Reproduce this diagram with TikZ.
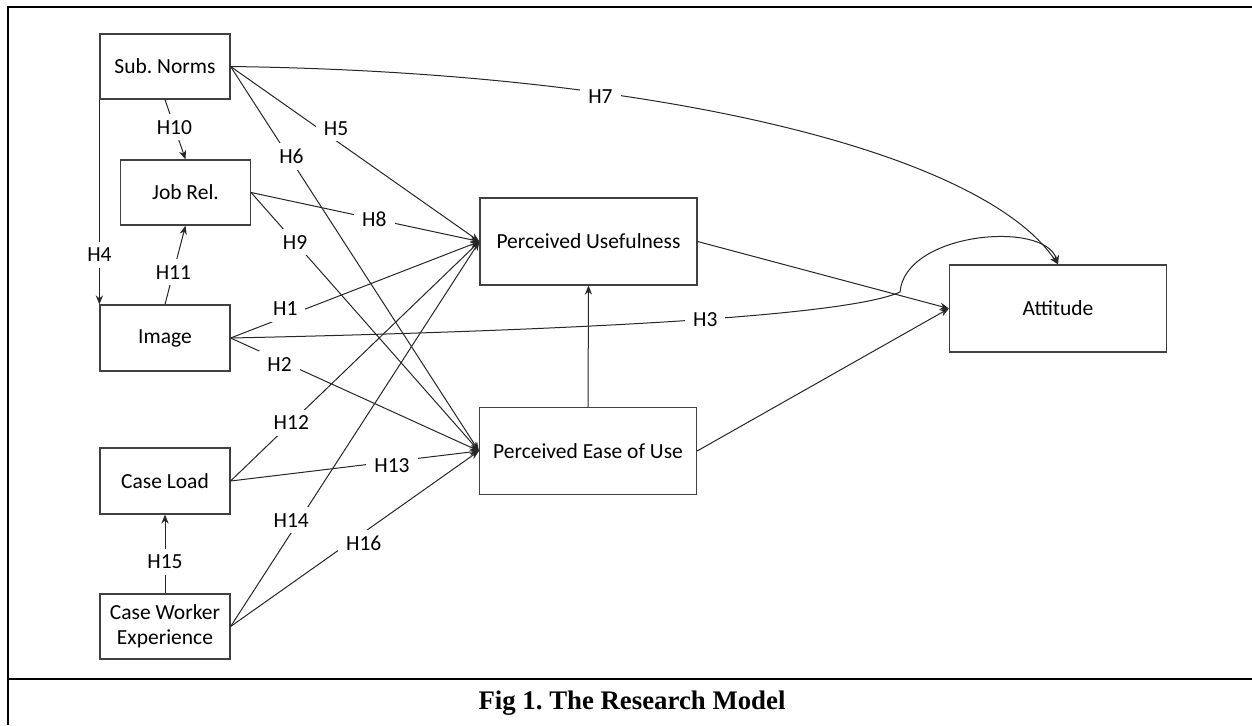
\documentclass[tikz,border=0pt]{standalone}
\usepackage{fontspec}
\setmainfont{Carlito}
\newfontfamily\capfont{Liberation Serif}
\usetikzlibrary{arrows.meta}
\frenchspacing
\newcommand\cfont{\fontsize{10.75}{12.5}\selectfont}
\tikzset{
  box/.style={draw=black!75, line width=0.6pt, minimum width=65pt, minimum height=32.5pt, inner sep=1pt, font=\cfont, align=center},
  big/.style={box, minimum width=108.5pt, minimum height=43.5pt},
  arr/.style={-{Stealth[length=4.5pt,width=3.6pt]}, line width=0.5pt, draw=black!85},
  lbl/.style={fill=white, inner xsep=4pt, inner ysep=3pt, font=\cfont},
  frame/.style={line width=1.15pt, draw=black}
}
\begin{document}
\begin{tikzpicture}[x=0.5pt, y=-0.5pt]
\useasboundingbox (0,0) rectangle (1252,725);
% frame
\draw[frame] (1252,7) -- (8,7) -- (8,725);
\draw[frame] (8,679) -- (1252,679);
\node[font=\capfont\bfseries\fontsize{13.4}{15}\selectfont] (cap) at (632,703) {Fig 1. The Research Model};
% boxes
\node[box] (sn) at (165,66.5) {Sub. Norms};
\node[box] (jr) at (185.5,192.5) {Job Rel.};
\node[box, minimum height=33pt] (img) at (165,338) {Image};
\node[box, minimum height=33pt] (cl) at (165,481) {Case Load};
\node[box] (cwe) at (165,626.5) {Case Worker\\Experience};
\node[big] (pu) at (588.5,241.5) {Perceived Usefulness};
\node[big] (peou) at (588,451) {Perceived Ease of Use};
\node[big] (att) at (1058,308.5) {Attitude};
\coordinate (k3) at (900,292);
% connectors
\draw[arr] (sn.south) -- node[lbl,pos=0.46]{H10} (jr.north);
\draw[arr] (sn.south west) -- node[lbl,pos=0.757]{H4} (img.north west);
\draw[arr] (img.north) -- node[lbl,pos=0.41]{H11} (jr.south);
\draw[arr] (cwe.north) -- node[lbl,pos=0.4]{H15} (cl.south);
\draw[arr] (sn.east) -- node[lbl,pos=0.40,xshift=3pt,yshift=4pt]{H5} (pu.west);
\draw[arr] (sn.east) -- node[lbl,pos=0.245,yshift=2pt]{H6} (peou.west);
\draw[arr] (sn.east) .. controls (650,72) and (980,150) .. (att.north) node[lbl,pos=0.32,yshift=-2pt]{H7};
\draw[arr] (jr.east) -- node[lbl,pos=0.54]{H8} (pu.west);
\draw[arr] (jr.east) -- node[lbl,pos=0.193]{H9} (peou.west);
\draw[arr] (img.east) -- node[lbl,pos=0.22,yshift=4pt]{H1} (pu.west);
\draw[arr] (img.east) -- node[lbl,pos=0.197,yshift=-2pt]{H2} (peou.west);
\draw[arr] (img.east) .. controls (600,330) and (850,315) .. (k3) node[lbl,pos=0.53]{H3}
   .. controls (905,232) and (1045,220) .. (att.north);
\draw[arr] (cl.east) -- node[lbl,pos=0.244]{H12} (pu.west);
\draw[arr] (cl.east) -- node[lbl,pos=0.65,yshift=-2pt]{H13} (peou.west);
\draw[arr] (cwe.east) -- node[lbl,pos=0.26,xshift=-2pt,yshift=3pt]{H14} (pu.west);
\draw[arr] (cwe.east) -- node[lbl,pos=0.52,xshift=2pt,yshift=-4pt]{H16} (peou.west);
\draw[arr] (peou.north) -- (pu.south);
\draw[arr] (pu.east) -- (att.west);
\draw[arr] (peou.east) -- (att.west);
\end{tikzpicture}
\end{document}
